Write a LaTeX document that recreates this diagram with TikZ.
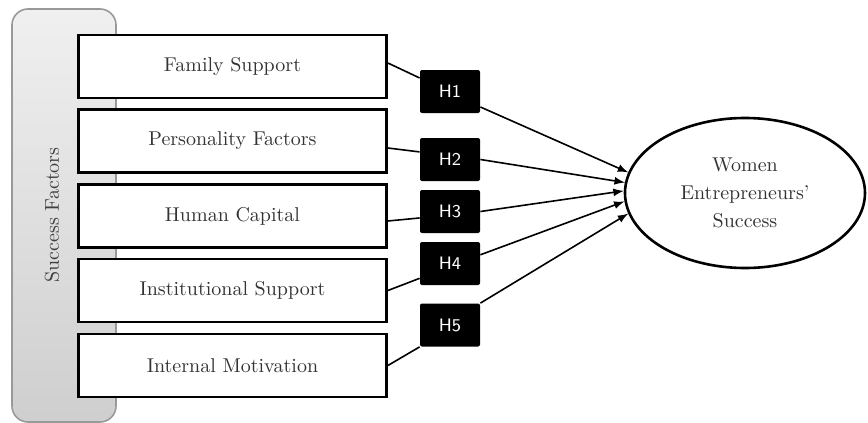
\documentclass[tikz,border=0pt]{standalone}
\usetikzlibrary{shapes.geometric}

\tikzset{
  factor/.style={draw, line width=1.4pt, fill=white, minimum width=154pt,
    minimum height=31.5pt, inner sep=0pt, text=black!80},
  hyp/.style={fill=black, rounded corners=1pt, minimum width=30pt,
    minimum height=21.5pt, inner sep=0pt, text=white, font=\sffamily\small},
  link/.style={line width=0.8pt},
}

\begin{document}
\begin{tikzpicture}[>=latex, x=0.5pt, y=-0.5pt]
    \useasboundingbox (0,0) rectangle (868,423);

    % Gruppe der Erfolgsfaktoren
    \draw[gray!80, line width=0.8pt, rounded corners=8pt, top color=gray!12, bottom color=gray!38]
       (12,9) rectangle (116,422);
    \node[rotate=90, text=black!75] (grp) at (52,215) {Success Factors};

    % Faktoren
    \node[factor] (fs) at (232.5,66.5) {Family Support};
    \node[factor] (pf) at (232.5,141) {Personality Factors};
    \node[factor] (hc) at (232.5,216) {Human Capital};
    \node[factor] (is) at (232.5,290.5) {Institutional Support};
    \node[factor] (im) at (232.5,365.5) {Internal Motivation};

    % Hypothesen
    \node[hyp] (h1) at (450,91.5) {H1};
    \node[hyp] (h2) at (450,159.5) {H2};
    \node[hyp] (h3) at (450,211.5) {H3};
    \node[hyp] (h4) at (450,263.5) {H4};
    \node[hyp] (h5) at (450,325) {H5};

    % Ergebnis
    \node[draw, ellipse, line width=1.3pt, minimum width=120pt, minimum height=75pt,
       inner sep=0pt, align=center, text=black!80] (ws) at (745,193)
       {Women\\[2pt] Entrepreneurs'\\[2pt] Success};

    % Faktor -- Hypothese
    \draw[link] ([yshift=1.75pt]fs.east) -- (h1.156);
    \draw[link] ([yshift=-3.5pt]pf.east) -- (h2.166);
    \draw[link] ([yshift=-2.5pt]hc.east) -- (h3.192);
    \draw[link] (is.east) -- (h4.206);
    \draw[link] (im.east) -- (h5.south west);

    % Hypothese -> Erfolg
    \draw[link, ->] (h1.-27) -- (ws.170);
    \draw[link, ->] (h2.east) -- (ws.175);
    \draw[link, ->] (h3.east) -- (ws.179);
    \draw[link, ->] (h4.16) -- (ws.184);
    \draw[link, ->] (h5.north east) -- (ws.190);
\end{tikzpicture}
\end{document}
